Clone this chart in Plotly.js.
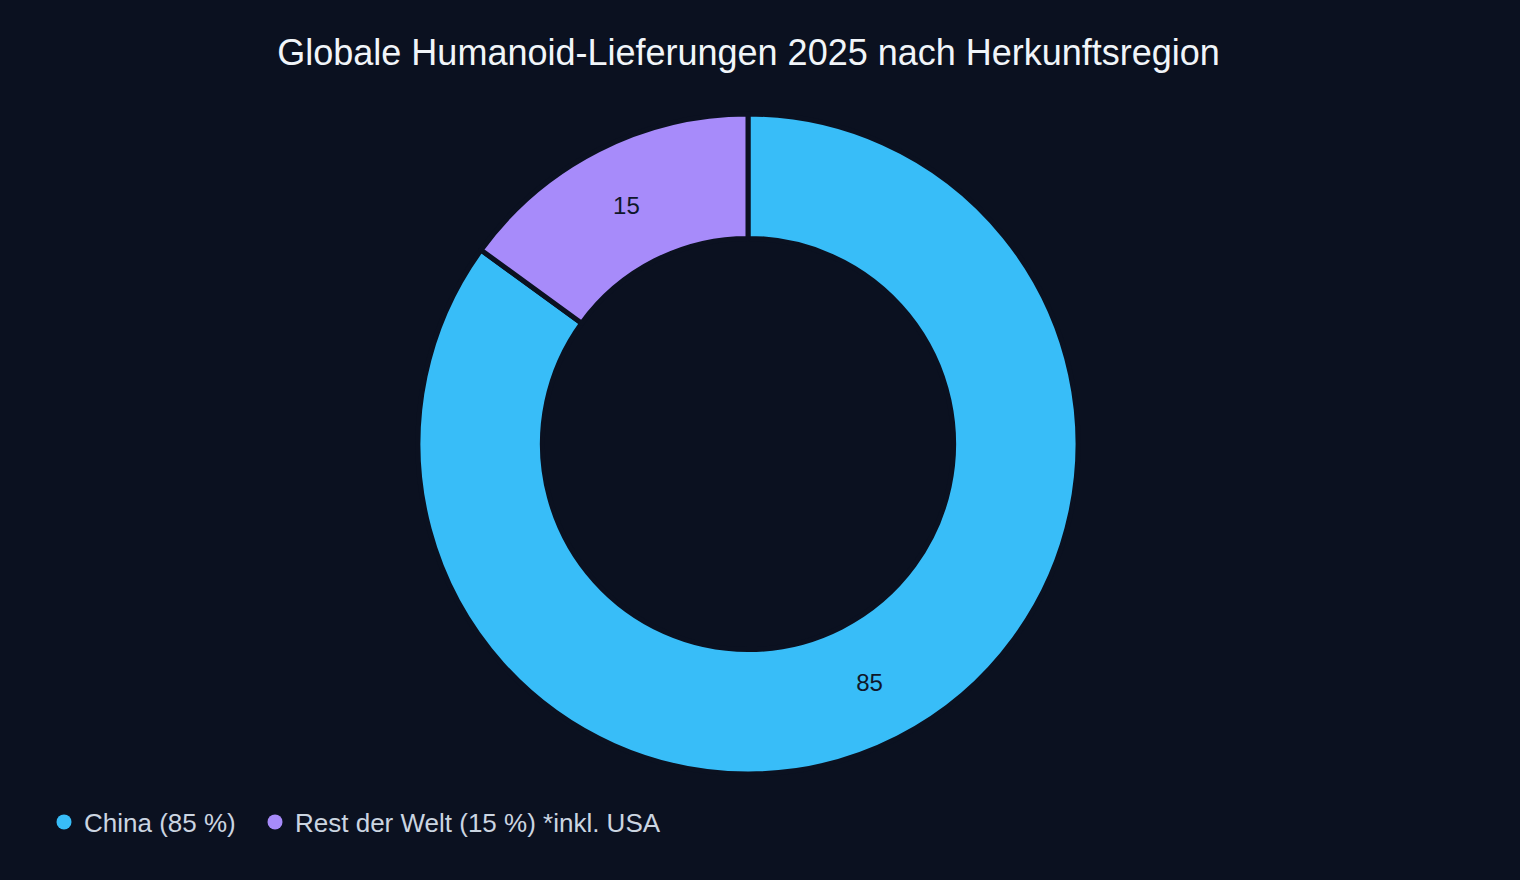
<!DOCTYPE html>
<html>
<head>
<meta charset="utf-8">
<script src="https://cdn.plot.ly/plotly-3.0.1.min.js"></script>
<style>
  html, body { margin: 0; padding: 0; background: #0b1120; }
  #chart { width: 1520px; height: 880px; }
</style>
</head>
<body>
<div id="chart"></div>
<script>
// Shipment shares by region of origin (percent)
const regions = ['China', 'Rest der Welt'];
const shares = [85, 15];
const legendLabels = ['China (85 %)', 'Rest der Welt (15 %) *inkl. USA'];
const colors = ['#38bdf8', '#a78bfa'];

const bg = '#0b1120';
const fontFamily = '"Liberation Sans", Arial, sans-serif';

const donut = {
  type: 'pie',
  labels: regions,
  values: shares,
  hole: 0.623,
  sort: false,
  direction: 'clockwise',
  rotation: 0,
  textinfo: 'value',
  textposition: 'inside',
  insidetextorientation: 'horizontal',
  textfont: { family: fontFamily, size: 24, color: '#0f172a' },
  marker: { colors: colors, line: { color: bg, width: 5 } },
  showlegend: false,
  hoverinfo: 'label+value'
};

// Legend entries with round markers, one legend box per entry
const legendIds = ['legend', 'legend2'];
const legendEntries = legendLabels.map((name, i) => ({
  type: 'scatter',
  mode: 'markers',
  x: [null],
  y: [null],
  name: name,
  legend: legendIds[i],
  marker: { color: colors[i], size: 15, symbol: 'circle' },
  showlegend: true,
  hoverinfo: 'skip'
}));

function legendBox(xPx) {
  return {
    orientation: 'h',
    xref: 'container',
    yref: 'container',
    x: xPx / 1520,
    xanchor: 'left',
    y: 1 - 822 / 880,
    yanchor: 'middle',
    bgcolor: 'rgba(0,0,0,0)',
    font: { family: fontFamily, size: 26, color: '#cbd5e1' }
  };
}

const layout = {
  width: 1520,
  height: 880,
  paper_bgcolor: bg,
  plot_bgcolor: bg,
  margin: { l: 40, r: 64, t: 114, b: 106 },
  title: {
    text: 'Globale Humanoid-Lieferungen 2025 nach Herkunftsregion',
    font: { family: fontFamily, size: 36, color: '#f1f5f9' },
    x: 0.4925,
    xanchor: 'center',
    y: 0.94,
    yanchor: 'middle'
  },
  xaxis: { visible: false },
  yaxis: { visible: false },
  legend: legendBox(44),
  legend2: legendBox(255)
};

Plotly.newPlot('chart', [donut, ...legendEntries], layout, { displayModeBar: false, responsive: false });
</script>
</body>
</html>
